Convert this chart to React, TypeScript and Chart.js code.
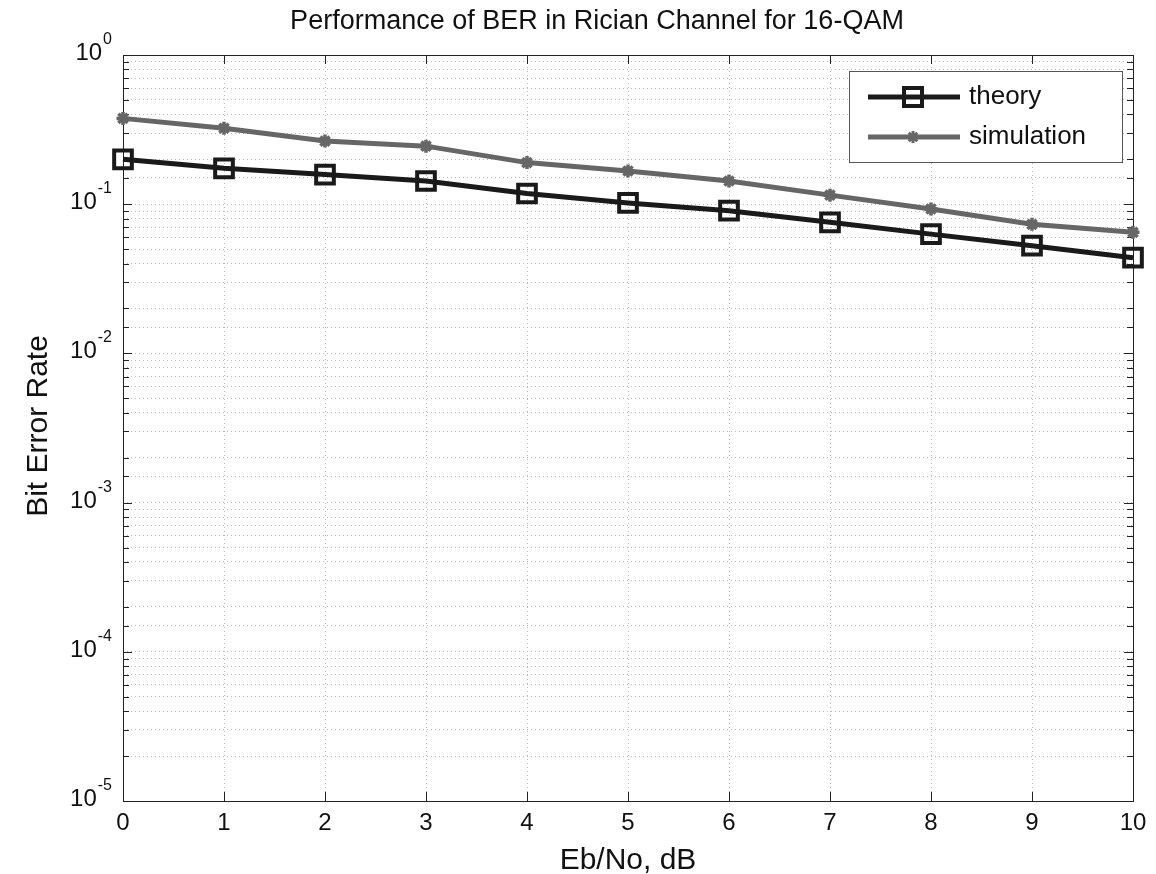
import { useEffect, useRef } from "react";
import { Chart, registerables } from "chart.js";

Chart.register(...registerables);

// ---- data ----
const ebNo = [0, 1, 2, 3, 4, 5, 6, 7, 8, 9, 10];
const theoryBer = [0.2, 0.174, 0.158, 0.143, 0.118, 0.102, 0.0905, 0.0756, 0.063, 0.0527, 0.0438];
const simulationBer = [0.376, 0.323, 0.265, 0.245, 0.19, 0.167, 0.143, 0.115, 0.0929, 0.0733, 0.0648];
const xTickValues = [0, 1, 2, 3, 4, 5, 6, 7, 8, 9, 10];
const yDecadeExponents = [0, -1, -2, -3, -4, -5];
const seriesNames = ["theory", "simulation"];
const chartTitle = "Performance of BER in Rician Channel for 16-QAM";
const xAxisTitle = "Eb/No, dB";
const yAxisTitle = "Bit Error Rate";

const FONT = "'Liberation Sans', Arial, Helvetica, sans-serif";
const THEORY_COLOR = "#1a1a1a";
const SIM_COLOR = "#666666";

const decorPlugin = {
  id: "matlabDecor",
  beforeDatasetsDraw(chart: any) {
    const { ctx, chartArea } = chart;
    const { left, right, top, bottom } = chartArea;
    const xs = chart.scales.x;
    const ys = chart.scales.y;
    ctx.save();
    ctx.strokeStyle = "#222";
    ctx.lineWidth = 1;
    ctx.beginPath();
    for (const t of ys.ticks) {
      const y = Math.round(ys.getPixelForValue(t.value)) + 0.5;
      const len = t.major ? 9 : 6;
      ctx.moveTo(left, y);
      ctx.lineTo(left + len, y);
      ctx.moveTo(right, y);
      ctx.lineTo(right - len, y);
    }
    for (const v of xTickValues) {
      const x = Math.round(xs.getPixelForValue(v)) + 0.5;
      ctx.moveTo(x, bottom);
      ctx.lineTo(x, bottom - 9);
      ctx.moveTo(x, top);
      ctx.lineTo(x, top + 9);
    }
    ctx.stroke();
    ctx.strokeRect(Math.round(left) + 0.5, Math.round(top) + 0.5, Math.round(right - left), Math.round(bottom - top));
    ctx.restore();
  },
  afterDraw(chart: any) {
    const { ctx, chartArea } = chart;
    const { left, right, top, bottom } = chartArea;
    const xs = chart.scales.x;
    const ys = chart.scales.y;
    ctx.save();
    ctx.fillStyle = "#111";
    ctx.font = `24px ${FONT}`;
    ctx.textAlign = "center";
    ctx.textBaseline = "alphabetic";
    for (const v of xTickValues) {
      ctx.fillText(String(v), xs.getPixelForValue(v), bottom + 29);
    }
    for (const e of yDecadeExponents) {
      const y = ys.getPixelForValue(Math.pow(10, e));
      const expText = String(e);
      ctx.font = `16px ${FONT}`;
      const expW = ctx.measureText(expText).width;
      const expRight = left - 11;
      ctx.textAlign = "left";
      ctx.fillText(expText, expRight - expW, y - 11);
      ctx.font = `24px ${FONT}`;
      ctx.textAlign = "right";
      ctx.fillText("10", expRight - expW - 1, y + 5);
    }
    ctx.textAlign = "center";
    ctx.font = `27px ${FONT}`;
    ctx.fillText(chartTitle, 597, 29);
    ctx.font = `30px ${FONT}`;
    ctx.fillText(xAxisTitle, (left + right) / 2, 869);
    ctx.save();
    ctx.translate(47, (top + bottom) / 2 - 2);
    ctx.rotate(-Math.PI / 2);
    ctx.font = `30px ${FONT}`;
    ctx.fillText(yAxisTitle, 0, 0);
    ctx.restore();

    // legend
    const bx = 849, by = 71, bw = 273, bh = 91;
    ctx.fillStyle = "#ffffff";
    ctx.fillRect(bx, by, bw, bh);
    ctx.strokeStyle = "#555";
    ctx.lineWidth = 1;
    ctx.strokeRect(bx + 0.5, by + 0.5, bw, bh);
    const rows = [
      { y: 97, color: THEORY_COLOR, marker: "square" },
      { y: 137, color: SIM_COLOR, marker: "star" },
    ];
    rows.forEach((r, i) => {
      ctx.strokeStyle = r.color;
      ctx.lineWidth = 5;
      ctx.beginPath();
      ctx.moveTo(868, r.y);
      ctx.lineTo(960, r.y);
      ctx.stroke();
      if (r.marker === "square") {
        ctx.lineWidth = 4;
        ctx.strokeRect(913 - 9, r.y - 9, 18, 18);
      } else {
        ctx.lineWidth = 3;
        const s = 6;
        ctx.beginPath();
        ctx.moveTo(913 - s, r.y);
        ctx.lineTo(913 + s, r.y);
        ctx.moveTo(913, r.y - s);
        ctx.lineTo(913, r.y + s);
        const d = s * 0.707;
        ctx.moveTo(913 - d, r.y - d);
        ctx.lineTo(913 + d, r.y + d);
        ctx.moveTo(913 - d, r.y + d);
        ctx.lineTo(913 + d, r.y - d);
        ctx.stroke();
      }
      ctx.fillStyle = "#111";
      ctx.font = `26px ${FONT}`;
      ctx.textAlign = "left";
      ctx.textBaseline = "middle";
      ctx.fillText(seriesNames[i], 969, r.y);
    });
    ctx.restore();
  },
};

export default function App() {
  const ref = useRef<HTMLCanvasElement | null>(null);
  useEffect(() => {
    document.body.style.margin = "0";
    const canvas = ref.current!;
    const chart = new Chart(canvas, {
      type: "line",
      data: {
        datasets: [
          {
            label: seriesNames[0],
            data: ebNo.map((x, i) => ({ x, y: theoryBer[i] })),
            borderColor: THEORY_COLOR,
            borderWidth: 5,
            pointStyle: "rect",
            pointRadius: 12.5,
            pointBorderWidth: 4,
            pointBorderColor: THEORY_COLOR,
            pointBackgroundColor: "rgba(0,0,0,0)",
            tension: 0,
            clip: false as any,
            order: 1,
          },
          {
            label: seriesNames[1],
            data: ebNo.map((x, i) => ({ x, y: simulationBer[i] })),
            borderColor: SIM_COLOR,
            borderWidth: 5,
            pointStyle: "star",
            pointRadius: 6.5,
            pointBorderWidth: 3.5,
            pointBorderColor: SIM_COLOR,
            pointBackgroundColor: SIM_COLOR,
            tension: 0,
            clip: false as any,
            order: 2,
          },
        ],
      },
      options: {
        responsive: false,
        animation: false,
        devicePixelRatio: 1,
        layout: { padding: { left: 123, right: 23, top: 55, bottom: 73 } },
        plugins: { legend: { display: false }, title: { display: false }, tooltip: { enabled: false } },
        scales: {
          x: {
            type: "linear",
            min: 0,
            max: 10,
            ticks: { stepSize: 1, display: false },
            grid: { drawTicks: false, color: "#b8b8b8", lineWidth: 1 },
            border: { display: false, dash: [1, 3] },
            afterFit: (s: any) => { s.height = 0; },
          },
          y: {
            type: "logarithmic",
            min: 1e-5,
            max: 1,
            ticks: { display: false, autoSkip: false },
            grid: { drawTicks: false, color: "#b8b8b8", lineWidth: 1 },
            border: { display: false, dash: [1, 3] },
            afterFit: (s: any) => { s.width = 0; },
          },
        },
      },
      plugins: [decorPlugin],
    });
    return () => chart.destroy();
  }, []);
  return <canvas ref={ref} width={1156} height={874} style={{ display: "block" }} />;
}
